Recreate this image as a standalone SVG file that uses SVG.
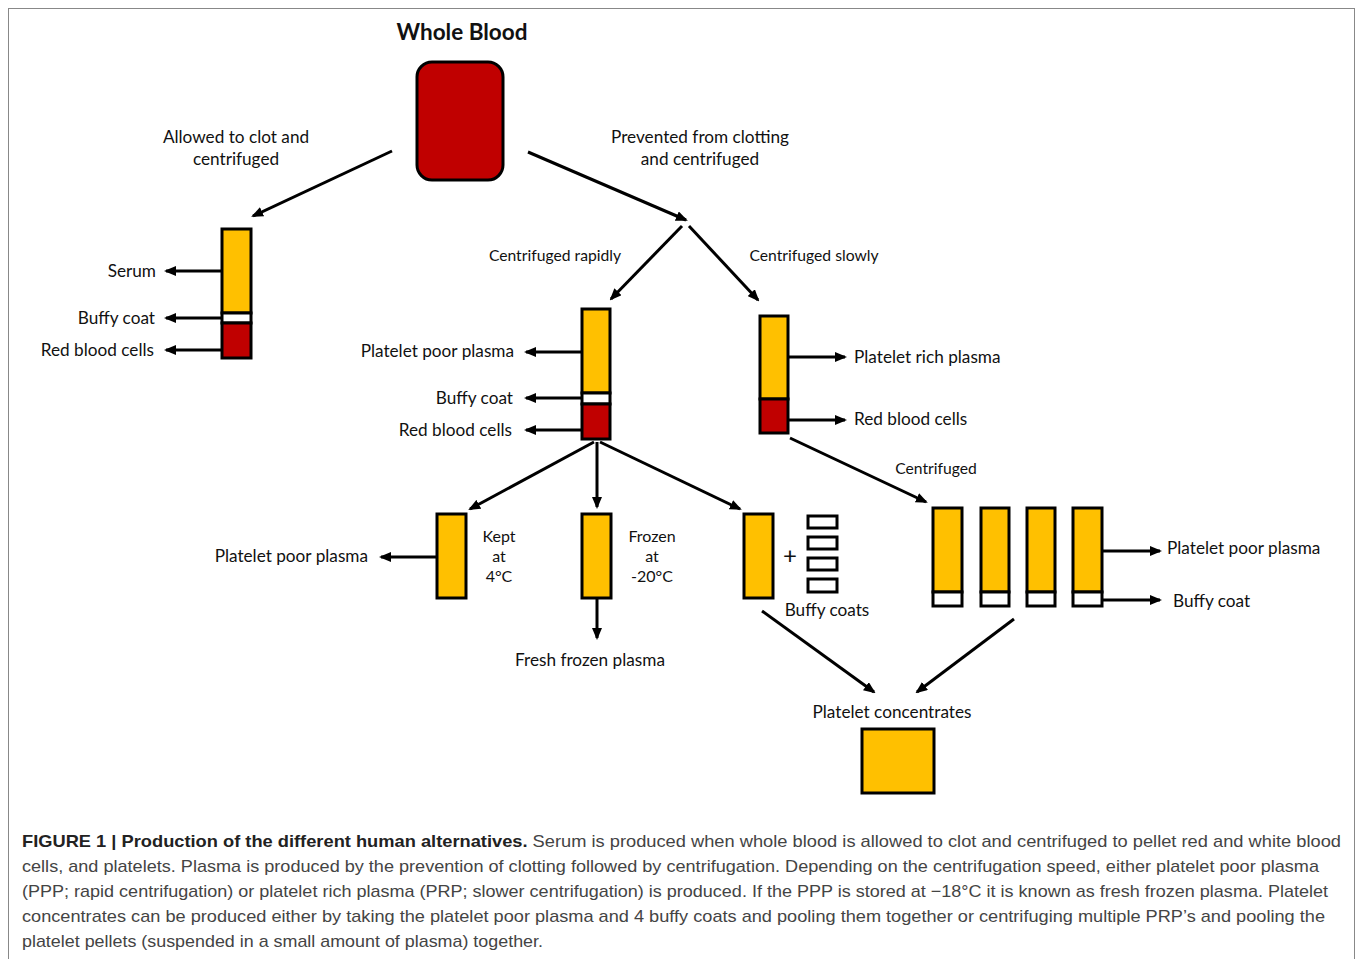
<svg xmlns="http://www.w3.org/2000/svg" width="1357" height="959" viewBox="0 0 1357 959">
<style>
.t{font-family:Lato,"Open Sans","Liberation Sans",sans-serif;font-size:17.2px;fill:#111}
.s{font-size:15.7px}
.k{font-size:16px}
.m{text-anchor:middle}
.e{text-anchor:end}
.ln{stroke:#000;stroke-width:3;fill:none;marker-end:url(#ah)}
.y{fill:#FFC000;stroke:#000;stroke-width:3}
.r{fill:#C00000;stroke:#000;stroke-width:3}
.w{fill:#fff;stroke:#000;stroke-width:3}
.cap{font-family:"Liberation Sans",Arial,sans-serif;font-size:17px;fill:#444}
.capb{font-weight:bold;fill:#222}
</style>
<defs>
<marker id="ah" markerWidth="12" markerHeight="10" refX="10" refY="5" orient="auto" markerUnits="userSpaceOnUse">
<path d="M0,0 L12,5 L0,10 Z" fill="#000"/>
</marker>
</defs>
<rect x="0" y="0" width="1357" height="959" fill="#fff"/>
<rect x="8.5" y="8.5" width="1346" height="960" fill="none" stroke="#888" stroke-width="1"/>

<g id="connectors">
<line class="ln" x1="392" y1="151" x2="253" y2="216"/>
<line class="ln" x1="528" y1="152" x2="686" y2="220"/>
<line class="ln" x1="222" y1="271" x2="166" y2="271"/>
<line class="ln" x1="222" y1="318" x2="166" y2="318"/>
<line class="ln" x1="222" y1="350" x2="166" y2="350"/>
<line class="ln" x1="682" y1="226" x2="611" y2="299"/>
<line class="ln" x1="689" y1="226" x2="758" y2="300"/>
<line class="ln" x1="582" y1="352" x2="526" y2="352"/>
<line class="ln" x1="582" y1="398" x2="526" y2="398"/>
<line class="ln" x1="582" y1="430" x2="526" y2="430"/>
<line class="ln" x1="788" y1="357" x2="845" y2="357"/>
<line class="ln" x1="788" y1="420" x2="845" y2="420"/>
<line class="ln" x1="790" y1="438" x2="926" y2="502"/>
<line class="ln" x1="594" y1="442" x2="470" y2="509"/>
<line class="ln" x1="597" y1="442" x2="597" y2="507"/>
<line class="ln" x1="600" y1="442" x2="740" y2="509"/>
<line class="ln" x1="437" y1="557" x2="381" y2="557"/>
<line class="ln" x1="597" y1="598" x2="597" y2="638"/>
<line class="ln" x1="1102" y1="551" x2="1160" y2="551"/>
<line class="ln" x1="1102" y1="600" x2="1160" y2="600"/>
<line class="ln" x1="762" y1="611" x2="874" y2="692"/>
<line class="ln" x1="1014" y1="619" x2="917" y2="692"/>
</g>

<g id="whole-blood">
<text class="t m" x="462" y="40" style="font-size:22.5px;font-weight:bold">Whole Blood</text>
<rect x="417" y="62" width="86" height="118" rx="15" class="r"/>
</g>

<g id="label-clot">
<text class="t m" x="236" y="143">Allowed to clot and</text>
<text class="t m" x="236" y="165">centrifuged</text>
</g>
<g id="label-prevent">
<text class="t m" x="700" y="143">Prevented from clotting</text>
<text class="t m" x="700" y="165">and centrifuged</text>
</g>

<g id="tube-serum">
<rect x="222" y="229" width="29" height="84" class="y"/>
<rect x="222" y="313" width="29" height="10" class="w"/>
<rect x="222" y="323" width="29" height="35" class="r"/>
<text class="t e" x="156" y="277">Serum</text>
<text class="t e" x="155" y="324">Buffy coat</text>
<text class="t e" x="154" y="356">Red blood cells</text>
</g>

<g id="label-rapid"><text class="t s m" x="555" y="261">Centrifuged rapidly</text></g>
<g id="label-slow"><text class="t s m" x="814" y="261">Centrifuged slowly</text></g>

<g id="tube-rapid">
<rect x="582" y="309" width="28" height="84" class="y"/>
<rect x="582" y="393" width="28" height="11" class="w"/>
<rect x="582" y="404" width="28" height="35" class="r"/>
<text class="t e" x="514" y="357">Platelet poor plasma</text>
<text class="t e" x="513" y="404">Buffy coat</text>
<text class="t e" x="512" y="436">Red blood cells</text>
</g>

<g id="tube-slow">
<rect x="760" y="316" width="28" height="83" class="y"/>
<rect x="760" y="399" width="28" height="34" class="r"/>
<text class="t" x="854" y="363">Platelet rich plasma</text>
<text class="t" x="854" y="425">Red blood cells</text>
</g>

<g id="label-centrifuged"><text class="t s m" x="936" y="474">Centrifuged</text></g>

<g id="tube-kept">
<rect x="437" y="514" width="29" height="84" class="y"/>
<text class="t e" x="368" y="562">Platelet poor plasma</text>
<text class="t k m" x="499" y="542">Kept</text>
<text class="t k m" x="499" y="562">at</text>
<text class="t k m" x="499" y="582">4°C</text>
</g>

<g id="tube-frozen">
<rect x="582" y="514" width="29" height="84" class="y"/>
<text class="t k m" x="652" y="542">Frozen</text>
<text class="t k m" x="652" y="562">at</text>
<text class="t k m" x="652" y="582">-20°C</text>
<text class="t m" x="590" y="666">Fresh frozen plasma</text>
</g>

<g id="tube-pool">
<rect x="744" y="514" width="29" height="84" class="y"/>
<text class="t m" x="790" y="564" style="font-size:24px">+</text>
<rect x="808" y="516" width="29" height="12" class="w"/>
<rect x="808" y="537" width="29" height="12" class="w"/>
<rect x="808" y="558" width="29" height="12" class="w"/>
<rect x="808" y="579" width="29" height="13" class="w"/>
<text class="t m" x="827" y="616">Buffy coats</text>
</g>

<g id="tubes-prp">
<rect x="933" y="508" width="29" height="84" class="y"/>
<rect x="933" y="592" width="29" height="14" class="w"/>
<rect x="981" y="508" width="28" height="84" class="y"/>
<rect x="981" y="592" width="28" height="14" class="w"/>
<rect x="1027" y="508" width="28" height="84" class="y"/>
<rect x="1027" y="592" width="28" height="14" class="w"/>
<rect x="1073" y="508" width="29" height="84" class="y"/>
<rect x="1073" y="592" width="29" height="14" class="w"/>
<text class="t" x="1167" y="554">Platelet poor plasma</text>
<text class="t" x="1173" y="607">Buffy coat</text>
</g>

<g id="platelet-concentrates">
<text class="t m" x="892" y="718">Platelet concentrates</text>
<rect x="862" y="729" width="72" height="64" class="y"/>
</g>

<g id="caption">
<text class="cap" x="22" y="847" textLength="1319" lengthAdjust="spacingAndGlyphs"><tspan class="capb">FIGURE 1 | Production of the different human alternatives.</tspan> Serum is produced when whole blood is allowed to clot and centrifuged to pellet red and white blood</text>
<text class="cap" x="22" y="872" textLength="1297" lengthAdjust="spacingAndGlyphs">cells, and platelets. Plasma is produced by the prevention of clotting followed by centrifugation. Depending on the centrifugation speed, either platelet poor plasma</text>
<text class="cap" x="22" y="897" textLength="1306" lengthAdjust="spacingAndGlyphs">(PPP; rapid centrifugation) or platelet rich plasma (PRP; slower centrifugation) is produced. If the PPP is stored at −18°C it is known as fresh frozen plasma. Platelet</text>
<text class="cap" x="22" y="922" textLength="1303" lengthAdjust="spacingAndGlyphs">concentrates can be produced either by taking the platelet poor plasma and 4 buffy coats and pooling them together or centrifuging multiple PRP’s and pooling the</text>
<text class="cap" x="22" y="947" textLength="521" lengthAdjust="spacingAndGlyphs">platelet pellets (suspended in a small amount of plasma) together.</text>
</g>
</svg>
